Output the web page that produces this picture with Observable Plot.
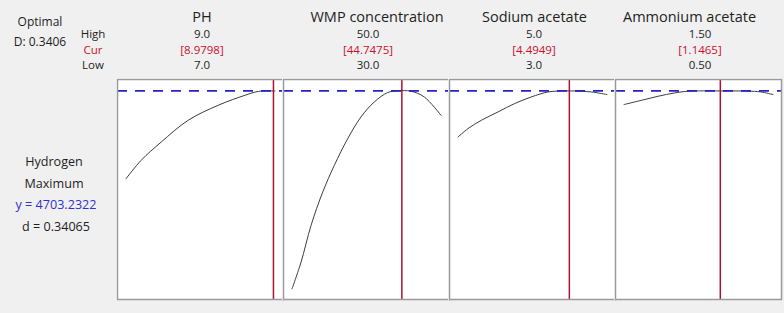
<!DOCTYPE html>
<html><head><meta charset="utf-8">
<script src="https://cdn.jsdelivr.net/npm/d3@7"></script>
<script src="https://cdn.jsdelivr.net/npm/@observablehq/plot@0.6"></script>
<style>
html,body{margin:0;padding:0;background:#f0f0f0;}
#wrap{position:relative;width:784px;height:313px;overflow:hidden;background:#f0f0f0;font-family:"Open Sans","Noto Sans",sans-serif;color:#1e1e1e;}
.t{position:absolute;white-space:nowrap;transform:translate(-50%,-50%);font-size:11.5px;line-height:1;}
.ttl{font-size:14.5px;}
.hd{font-size:12px;}
.lb{font-size:12.6px;}
.red{color:#c8102e;}
.blue{color:#3030d0;}
.p{position:absolute;}
</style></head><body><div id="wrap"></div>
<script>
// factor settings
const factors = ["PH", "WMP concentration", "Sodium acetate", "Ammonium acetate"];
const highLabels = ["9.0", "50.0", "5.0", "1.50"];
const curLabels = ["[8.9798]", "[44.7475]", "[4.4949]", "[1.1465]"];
const lowLabels = ["7.0", "30.0", "3.0", "0.50"];
const lowVals = [7, 30, 3, 0.5];
const highVals = [9, 50, 5, 1.5];
const curVals = [8.9798, 44.7475, 4.4949, 1.1465];

// response summary
const responseName = "Hydrogen";
const goal = "Maximum";
const yOptimal = 4703.2322;
const dText = "d = 0.34065";
const compositeD = "D: 0.3406";

// predicted Hydrogen vs each factor
const phX = [7.0, 7.203, 7.473, 7.834, 8.239, 8.598, 8.78, 9.0];
const phY = [3200, 3514, 3828, 4200, 4458, 4629, 4695, 4702];
const wmpX = [30, 31.21, 32.55, 34.12, 35.68, 37.48, 39.26, 41.05, 42.85, 44.19, 45.97, 47.76, 50];
const wmpY = [1312, 1769, 2398, 2970, 3428, 3886, 4257, 4514, 4676, 4703, 4698, 4600, 4286];
const naX = [3.0, 3.134, 3.313, 3.537, 3.761, 3.984, 4.208, 4.342, 4.521, 4.789, 5.0];
const naY = [3914, 4058, 4200, 4343, 4487, 4600, 4686, 4700, 4703, 4686, 4641];
const amX = [0.5, 0.618, 0.729, 0.84, 0.929, 1.151, 1.329, 1.418, 1.5];
const amY = [4470, 4543, 4612, 4669, 4698, 4703, 4700, 4686, 4641];

const curvesX = [phX, wmpX, naX, amX];
const curvesY = [phY, wmpY, naY, amY];

const wrap = document.getElementById("wrap");
function addText(txt, x, y, cls) {
  const d = document.createElement("div");
  d.className = "t " + (cls || "");
  d.textContent = txt;
  d.style.left = x + "px";
  d.style.top = y + "px";
  wrap.appendChild(d);
}

// left header
addText("Optimal", 40, 21.5, "hd");
addText(compositeD, 40, 41.5, "hd");
addText("High", 93, 33.5);
addText("Cur", 93, 49.5, "red");
addText("Low", 93, 64.5);
// left response block
addText(responseName, 54, 161.5, "lb");
addText(goal, 54, 183.5, "lb");
addText("y = " + yOptimal.toFixed(4), 56, 205, "lb blue");
addText(dText, 56, 226.5, "lb");

const panelLeft = [117, 283, 449, 615];
const panelW = 166, panelTop = 79, panelH = 220;
const titleX = [202, 377, 534.5, 689.5];
const valX = [202, 368, 534, 700];
const yDomain = [1129, 4899];

factors.forEach((f, i) => {
  addText(f, titleX[i], 16.5, "ttl");
  addText(highLabels[i], valX[i], 33.5);
  addText(curLabels[i], valX[i], 49.5, "red");
  addText(lowLabels[i], valX[i], 64.5);

  const lo = lowVals[i], hi = highVals[i], pad = (hi - lo) * 0.0574;
  const data = curvesX[i].map((x, k) => ({x, y: curvesY[i][k]}));
  const svg = Plot.plot({
    width: panelW + 2, height: panelH + 2,
    margin: 1,
    style: {background: "white", overflow: "visible"},
    x: {domain: [lo - pad, hi + pad], axis: null},
    y: {domain: yDomain, axis: null},
    marks: [
      Plot.line(data, {x: "x", y: "y", stroke: "#3c3c3c", strokeWidth: 1, curve: "catmull-rom"}),
      Plot.ruleY([yOptimal], {stroke: "#2424c0", strokeWidth: 1.6, strokeDasharray: "10,8"}),
      Plot.ruleX([curVals[i]], {stroke: "#b0102a", strokeWidth: 1.5}),
      Plot.frame({stroke: "#9a9a9a", strokeWidth: 1.5})
    ]
  });
  svg.classList.add("p");
  svg.style.left = (panelLeft[i] - 1) + "px";
  svg.style.top = (panelTop - 1) + "px";
  wrap.appendChild(svg);
});
</script>
</body></html>
